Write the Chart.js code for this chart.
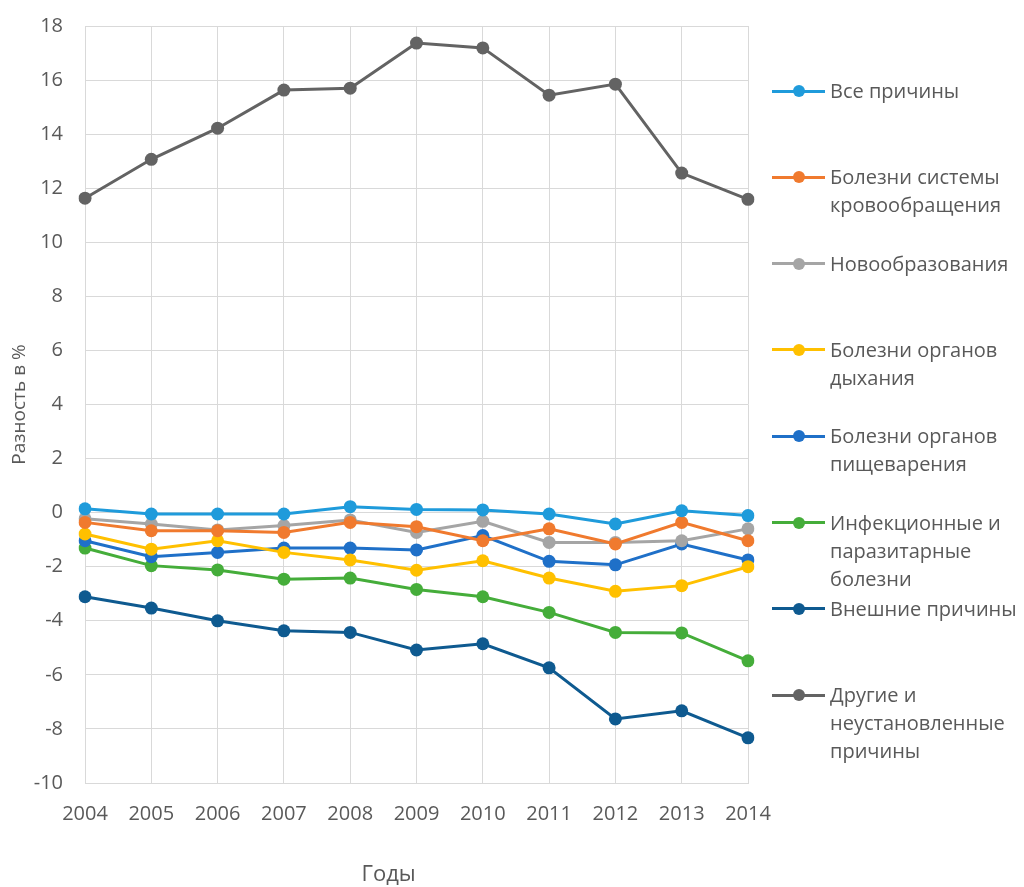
<!DOCTYPE html>
<html>
<head>
<meta charset="utf-8">
<script src="https://cdn.jsdelivr.net/npm/chart.js@4/dist/chart.umd.min.js"></script>
<style>
  html, body { margin: 0; padding: 0; background: #fff; }
  #wrap { position: relative; width: 1024px; height: 887px; }
  #legend { position: absolute; left: 0; top: 0; width: 1024px; height: 887px; pointer-events: none;
    font-family: "Open Sans", "Noto Sans", sans-serif; font-size: 20px; color: #595959; }
  .item { position: absolute; left: 772px; }
  .swatch { position: absolute; left: 0; width: 53px; height: 3px; }
  .dot { position: absolute; left: 21px; width: 12px; height: 12px; border-radius: 50%; }
  .txt { position: absolute; left: 58px; white-space: nowrap; line-height: 28px; }
</style>
</head>
<body>
<div id="wrap">
  <canvas id="c" width="1024" height="887"></canvas>
  <div id="legend"></div>
</div>
<script>
const years = ['2004','2005','2006','2007','2008','2009','2010','2011','2012','2013','2014'];
const yTicks = [18,16,14,12,10,8,6,4,2,0,-2,-4,-6,-8,-10];
const xTitle = 'Годы';
const yTitle = 'Разность в %';

const seriesNames = [
  ['Все причины'],
  ['Болезни системы', 'кровообращения'],
  ['Новообразования'],
  ['Болезни органов', 'дыхания'],
  ['Болезни органов', 'пищеварения'],
  ['Инфекционные и', 'паразитарные', 'болезни'],
  ['Внешние причины'],
  ['Другие и', 'неустановленные', 'причины']
];

const allCauses     = [0.14, -0.05, -0.05, -0.05, 0.22, 0.12, 0.10, -0.05, -0.42, 0.07, -0.11];
const circulatory   = [-0.36, -0.67, -0.67, -0.73, -0.36, -0.52, -1.04, -0.60, -1.16, -0.36, -1.04];
const neoplasms     = [-0.23, -0.42, -0.64, -0.48, -0.27, -0.73, -0.32, -1.10, -1.10, -1.04, -0.60];
const respiratory   = [-0.79, -1.35, -1.04, -1.47, -1.75, -2.13, -1.78, -2.42, -2.91, -2.70, -2.00];
const digestive     = [-1.04, -1.63, -1.47, -1.31, -1.31, -1.38, -0.85, -1.80, -1.93, -1.16, -1.75];
const infectious    = [-1.31, -1.96, -2.12, -2.46, -2.42, -2.84, -3.11, -3.69, -4.43, -4.45, -5.48];
const external      = [-3.11, -3.53, -4.00, -4.37, -4.43, -5.08, -4.85, -5.74, -7.63, -7.33, -8.33];
const otherUnknown  = [11.63, 13.07, 14.22, 15.63, 15.70, 17.37, 17.19, 15.44, 15.85, 12.56, 11.59];

const seriesData = [allCauses, circulatory, neoplasms, respiratory, digestive, infectious, external, otherUnknown];
const colors = ['#1F9BDB', '#F07A2E', '#A5A5A5', '#FFC000', '#1F70C8', '#45AD3A', '#0E5A90', '#636363'];

const datasets = seriesData.map((d, i) => ({
  label: seriesNames[i].join(' '),
  data: d,
  borderColor: colors[i],
  backgroundColor: colors[i],
  borderWidth: 3,
  pointRadius: 6.5,
  pointHoverRadius: 6.5,
  pointBorderWidth: 0,
  tension: 0,
  fill: false
}));

const fontFamily = '"Open Sans", "Noto Sans", sans-serif';

// Draws the x-axis title below the tick labels (Excel places it slightly left of centre)
const xTitlePlugin = {
  id: 'xTitlePlugin',
  afterDraw(chart) {
    const { ctx, chartArea } = chart;
    ctx.save();
    ctx.font = '22px ' + fontFamily;
    ctx.fillStyle = '#595959';
    ctx.textAlign = 'center';
    ctx.textBaseline = 'middle';
    ctx.fillText(xTitle, chartArea.left + chartArea.width * 0.458, chartArea.bottom + 92);
    ctx.restore();
  }
};

new Chart(document.getElementById('c'), {
  type: 'line',
  data: { labels: years, datasets },
  plugins: [xTitlePlugin],
  options: {
    responsive: false,
    animation: false,
    devicePixelRatio: 1,
    layout: { padding: { left: 8, right: 276, top: 26, bottom: 63 } },
    plugins: { legend: { display: false }, tooltip: { enabled: false } },
    scales: {
      x: {
        offset: false,
        afterFit: (scale) => { scale.height = 41; },
        grid: { color: '#D9D9D9', lineWidth: 1, drawTicks: false },
        border: { color: '#D9D9D9' },
        ticks: { color: '#595959', font: { family: fontFamily, size: 20 }, padding: 19, maxRotation: 0 }
      },
      y: {
        min: -10, max: 18,
        afterBuildTicks: (axis) => { axis.ticks = yTicks.map(v => ({ value: v })); },
        afterFit: (scale) => { scale.width = 77; scale.paddingTop = 0; scale.paddingBottom = 0; },
        grid: { color: '#D9D9D9', lineWidth: 1, drawTicks: false },
        border: { color: '#D9D9D9' },
        ticks: { color: '#595959', font: { family: fontFamily, size: 20 }, padding: 22 },
        title: { display: true, text: yTitle, color: '#595959', font: { family: fontFamily, size: 19 }, padding: { top: 0, bottom: 4 } }
      }
    }
  }
});

// Legend (HTML, built from series names and colours)
const legend = document.getElementById('legend');
seriesNames.forEach((lines, i) => {
  const cy = 91 + i * 86.3;
  const item = document.createElement('div');
  item.className = 'item';
  item.style.top = cy + 'px';
  const sw = document.createElement('div');
  sw.className = 'swatch'; sw.style.background = colors[i]; sw.style.top = '-1.5px';
  const dot = document.createElement('div');
  dot.className = 'dot'; dot.style.background = colors[i]; dot.style.top = '-6px';
  const txt = document.createElement('div');
  txt.className = 'txt'; txt.style.top = '-14px';
  txt.innerHTML = lines.join('<br>');
  item.appendChild(sw); item.appendChild(dot); item.appendChild(txt);
  legend.appendChild(item);
});
</script>
</body>
</html>
